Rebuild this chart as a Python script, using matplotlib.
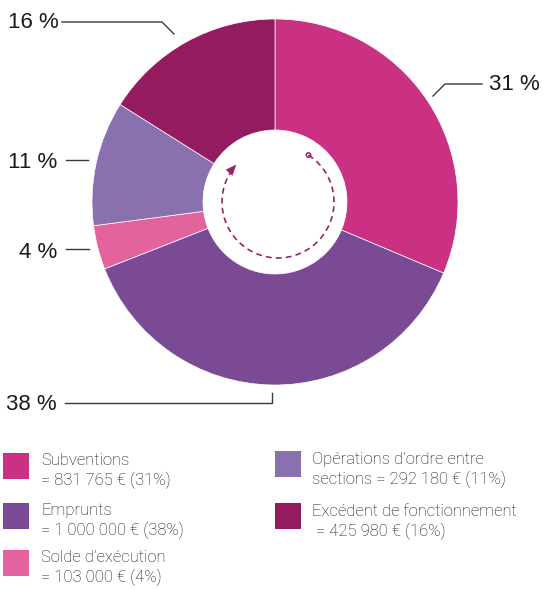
import numpy as np
import matplotlib
matplotlib.use("Agg")
import matplotlib.pyplot as plt
from matplotlib.patches import Rectangle, Circle, Polygon

# data
categories = ["Subventions", "Emprunts", "Solde d'exécution",
              "Opérations d'ordre entre sections", "Excédent de fonctionnement"]
amounts = [831765, 1000000, 103000, 292180, 425980]
colors = ["#cb3183", "#7b4a95", "#e3639e", "#8a70ae", "#951b60"]
pct_labels = ["31 %", "38 %", "4 %", "11 %", "16 %"]
legend_texts = ["Subventions\n= 831 765 € (31%)",
                "Emprunts\n= 1 000 000 € (38%)",
                "Solde d’exécution\n= 103 000 € (4%)",
                "Opérations d’ordre entre\nsections = 292 180 € (11%)",
                "Excédent de fonctionnement\n = 425 980 € (16%)"]

W, H = 547, 589
fig = plt.figure(figsize=(W / 100, H / 100), dpi=100)
ax = fig.add_axes([0, 0, 1, 1])

cx, cy, R, r_in = 275, 202, 183, 72

# pie in pixel space (y axis inverted, so counterclock=True draws clockwise on screen)
ax.pie(amounts, colors=colors, startangle=-90, counterclock=True,
       center=(cx, cy), radius=R, frame=True,
       wedgeprops=dict(width=R - r_in, linewidth=0.5, edgecolor="white"))
ax.set_xlim(0, W)
ax.set_ylim(H, 0)
ax.set_aspect("equal")
ax.axis("off")

# leader lines
lc = "#3a3a3a"
lw = 1.0
ax.plot([62, 162, 174], [22, 22, 34], color=lc, lw=lw)
ax.plot([482, 445, 433], [84, 84, 96], color=lc, lw=lw)
ax.plot([66, 88], [160, 160], color=lc, lw=lw)
ax.plot([66, 89], [249, 249], color=lc, lw=lw)
ax.plot([65, 272, 272], [403, 403, 393], color=lc, lw=lw)

pfont = dict(family="Liberation Sans", fontsize=16, color="#1a1a1a", va="center")
ax.text(8, 23, pct_labels[4], ha="left", **pfont)
ax.text(540, 85, pct_labels[0], ha="right", **pfont)
ax.text(57, 162, pct_labels[3], ha="right", **pfont)
ax.text(57, 252, pct_labels[2], ha="right", **pfont)
ax.text(57, 405, pct_labels[1], ha="right", **pfont)

# dashed circular arrow in the hole
ac = "#9a2366"
acx, acy, ar = 278, 202, 56
t_end = np.radians(-222)
theta = np.linspace(np.radians(57), t_end + np.radians(8), 200)
xs = acx + ar * np.cos(theta)
ys = acy - ar * np.sin(theta)
ax.plot(xs, ys, color=ac, lw=1.2, ls=(0, (3.5, 2.5)))
ax.add_patch(Circle((xs[0], ys[0]), 2.2, fill=False, ec=ac, lw=1.1))
# arrow head along the tangent at the end of the arc
tip = np.array([acx + ar * np.cos(t_end), acy - ar * np.sin(t_end)])
d = np.array([np.sin(t_end), np.cos(t_end)])
n = np.array([-d[1], d[0]])
base = tip - 11 * d
ax.add_patch(Polygon([tip, base + 4.5 * n, base - 4.5 * n], closed=True,
                     color=ac, lw=0))

# legend
lfont = dict(family="Roboto", weight="light", fontsize=12, color="#111111",
             va="top", linespacing=1.3)
left_items = [(0, 453), (1, 503), (2, 550)]
right_items = [(3, 451), (4, 503)]
for i, y in left_items:
    ax.add_patch(Rectangle((3, y), 26, 26, color=colors[i], lw=0))
    ax.text(41, y, legend_texts[i], ha="left", **lfont)
for i, y in right_items:
    ax.add_patch(Rectangle((275, y), 26, 26, color=colors[i], lw=0))
    ax.text(312, y + 1, legend_texts[i], ha="left", **lfont)

fig.savefig("out.png", dpi=100)
